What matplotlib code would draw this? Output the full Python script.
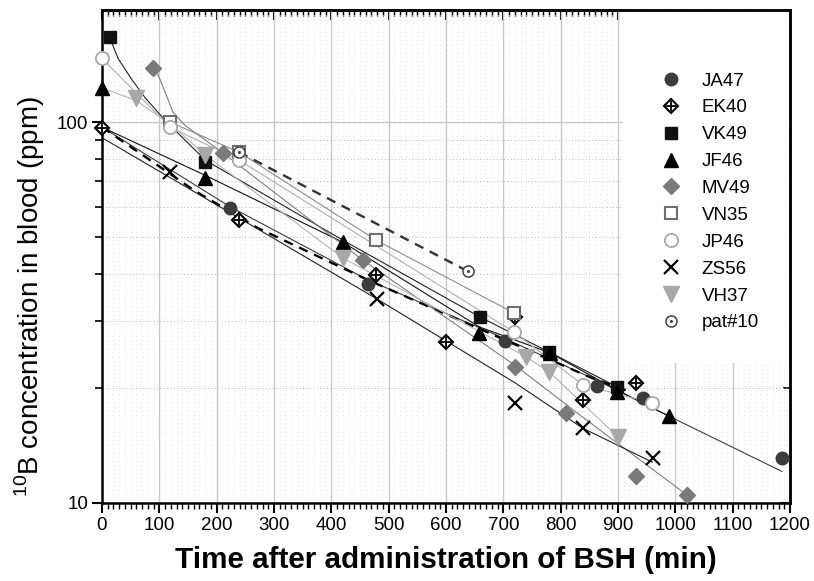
import matplotlib
matplotlib.use('Agg')
import matplotlib.pyplot as plt
from matplotlib.patches import Rectangle
from matplotlib.ticker import LogLocator, MultipleLocator, NullFormatter, FixedLocator
from matplotlib.legend_handler import HandlerTuple

plt.rcParams['font.family'] = ['Liberation Sans', 'DejaVu Sans']

# measured points (min, ppm)
ja47_t = [223, 464, 703, 863, 944, 1186]
ja47_c = [59.5, 37.6, 26.6, 20.3, 18.9, 13.1]
ek40_t = [0, 239, 478, 600, 720, 839, 931]
ek40_c = [96.4, 55.3, 39.7, 26.5, 30.8, 18.6, 20.6]
vk49_t = [14, 180, 659, 780, 898]
vk49_c = [167, 78.5, 30.8, 24.9, 20.2]
jf46_t = [0, 180, 420, 658, 781, 898, 989]
jf46_c = [123, 71.3, 48.4, 27.9, 24.8, 19.6, 16.9]
mv49_t = [89, 211, 455, 720, 810, 932, 1020]
mv49_c = [139, 82.9, 43.4, 22.7, 17.2, 11.8, 10.5]
vn35_t = [119, 239, 478, 719]
vn35_c = [100, 83.4, 49.0, 31.5]
jp46_t = [0, 119, 239, 719, 839, 960]
jp46_c = [147, 97, 79.5, 28.1, 20.4, 18.3]
zs56_t = [119, 480, 720, 839, 961]
zs56_c = [73.9, 34.3, 18.3, 15.7, 13.1]
vh37_t = [59, 180, 420, 740, 780, 900]
vh37_c = [115.6, 81.9, 44, 24.2, 22.1, 14.9]
pat10_t = [239, 638]
pat10_c = [83.4, 40.6]

# fitted curves
ja47_fit_t = [0, 223, 464, 703, 863, 989, 1186]
ja47_fit_c = [97, 60, 38.5, 27, 21, 16.9, 12.1]
ek40_fit_t = [0, 162, 272, 464, 851, 921]
ek40_fit_c = [97, 66, 52.7, 38.5, 21.4, 19.6]
vk49_fit_t = [14, 28, 51, 75, 98, 115, 180, 420, 659, 780, 898]
vk49_fit_c = [166, 147, 130, 116, 106, 99.4, 79.5, 49, 30.8, 24.9, 20.2]
jf46_fit_t = [0, 180, 420, 658, 781, 898, 989]
jf46_fit_c = [97, 72.5, 48.4, 29, 24.8, 19.8, 16.9]
mv49_fit_t = [89, 98, 110, 124, 145, 211, 455, 720, 834, 1020]
mv49_fit_c = [139, 133, 120, 106, 98, 83, 43.4, 23, 17, 10.5]
vn35_fit_t = [119, 239, 478, 719]
vn35_fit_c = [100, 83.4, 49, 31.5]
jp46_fit_t = [0, 119, 239, 719, 839, 960]
jp46_fit_c = [147, 97, 79.5, 28.1, 20.4, 18.3]
zs56_fit_t = [0, 162, 480, 720, 839, 960]
zs56_fit_c = [91, 65.5, 34.3, 20.7, 15.7, 12.8]
vh37_fit_t = [0, 59, 119, 180, 420, 740, 780, 900]
vh37_fit_c = [123, 114, 99, 82, 44, 24.2, 22.1, 14.9]
pat10_fit_t = [239, 638]
pat10_fit_c = [83.4, 40.6]

x_ticks = list(range(0, 1201, 100))

fig = plt.figure(figsize=(8.14, 5.81), dpi=100)
ax = fig.add_axes([0.1253, 0.1343, 0.8452, 0.8485])
ax.set_yscale('log')
ax.set_xlim(0, 1200)
ax.set_ylim(10, 197)
ax.set_axisbelow(True)

# fit lines
thin = 0.8
ax.plot(ja47_fit_t, ja47_fit_c, color='#3c3c3c', lw=thin, zorder=2)
ax.plot(ek40_fit_t, ek40_fit_c, color='black', lw=1.7, ls=(0, (4, 3)), zorder=2)
ax.plot(vk49_fit_t, vk49_fit_c, color='#222222', lw=thin, zorder=2)
ax.plot(jf46_fit_t, jf46_fit_c, color='#111111', lw=thin, zorder=2)
ax.plot(mv49_fit_t, mv49_fit_c, color='#808080', lw=thin, zorder=2)
ax.plot(vn35_fit_t, vn35_fit_c, color='#8c8c8c', lw=thin, zorder=2)
ax.plot(jp46_fit_t, jp46_fit_c, color='#b0b0b0', lw=thin, zorder=2)
ax.plot(zs56_fit_t, zs56_fit_c, color='#222222', lw=thin, zorder=2)
ax.plot(vh37_fit_t, vh37_fit_c, color='#b4b4b4', lw=thin, zorder=2)
ax.plot(pat10_fit_t, pat10_fit_c, color='#333333', lw=1.7, ls=(0, (4, 3)), zorder=2)

# markers
kw = dict(ls='none', clip_on=False, zorder=4)
h_ja47, = ax.plot(ja47_t, ja47_c, 'o', color='#3c3c3c', ms=9, **kw)
h_ek40a, = ax.plot(ek40_t, ek40_c, 'D', mfc='white', mec='black', ms=7.5, mew=1.5, **kw)
h_ek40b, = ax.plot(ek40_t, ek40_c, '+', color='black', ms=7.5, mew=1.3, **kw)
h_vk49, = ax.plot(vk49_t, vk49_c, 's', color='#111111', ms=8, **kw)
h_jf46, = ax.plot(jf46_t, jf46_c, '^', color='black', ms=10, **kw)
h_mv49, = ax.plot(mv49_t, mv49_c, 'D', color='#7a7a7a', ms=8, **kw)
h_vn35, = ax.plot(vn35_t, vn35_c, 's', mfc='white', mec='#6e6e6e', ms=9, mew=1.5, **kw)
h_jp46, = ax.plot(jp46_t, jp46_c, 'o', mfc='white', mec='#a8a8a8', ms=9.5, mew=1.3, **kw)
h_zs56, = ax.plot(zs56_t, zs56_c, 'x', color='black', ms=10, mew=1.6, **kw)
h_vh37, = ax.plot(vh37_t, vh37_c, 'v', color='#a8a8a8', ms=11, **kw)
h_p10a, = ax.plot(pat10_t, pat10_c, 'o', mfc='white', mec='#444444', ms=8, mew=1.1, **kw)
h_p10b, = ax.plot(pat10_t, pat10_c, '.', color='#444444', ms=2.5, **kw)

# white area behind legend
ax.add_patch(Rectangle((0.757, 0.284), 0.241, 0.712, transform=ax.transAxes,
                       facecolor='white', edgecolor='none', zorder=1))

handles = [h_ja47, (h_ek40a, h_ek40b), h_vk49, h_jf46, h_mv49, h_vn35, h_jp46,
           h_zs56, h_vh37, (h_p10a, h_p10b)]
labels = ['JA47', 'EK40', 'VK49', 'JF46', 'MV49', 'VN35', 'JP46', 'ZS56', 'VH37', 'pat#10']
leg = ax.legend(handles, labels, loc='upper left', bbox_to_anchor=(0.795, 0.9),
                frameon=False, fontsize=13.5, handlelength=1.0, handletextpad=1.1,
                labelspacing=0.52, borderpad=0.2,
                handler_map={tuple: HandlerTuple(ndivide=1, pad=0)})
leg.set_zorder(5)

# grid
ax.xaxis.set_major_locator(FixedLocator(x_ticks))
ax.xaxis.set_minor_locator(MultipleLocator(10))
ax.yaxis.set_major_locator(LogLocator(base=10))
ax.yaxis.set_minor_locator(LogLocator(base=10, subs=range(2, 10)))
ax.yaxis.set_minor_formatter(NullFormatter())
ax.grid(which='major', color='#c8c8c8', lw=1.0, ls='-')
ax.grid(which='minor', axis='x', color='#d4d4d4', lw=0.6, ls=(0, (1, 4)))
ax.grid(which='minor', axis='y', color='#bcbcbc', lw=0.7, ls=(0, (1, 2.5)))
ax.yaxis.set_major_formatter(matplotlib.ticker.FuncFormatter(lambda v, p: '%d' % v))

for s in ax.spines.values():
    s.set_linewidth(1.8)

ax.tick_params(axis='both', which='both', labelsize=13.5, colors='black')
ax.tick_params(axis='x', which='major', direction='out', length=7, width=1.5, pad=3)
ax.tick_params(axis='x', which='minor', direction='out', length=4, width=1.0)
ax.tick_params(axis='y', which='major', direction='out', length=7, width=1.5, pad=3)
ax.tick_params(axis='y', which='minor', direction='out', length=5, width=1.2)

# top and right ticks pointing inwards
sec_x = ax.secondary_xaxis('top')
sec_x.xaxis.set_major_locator(FixedLocator(x_ticks))
sec_x.xaxis.set_minor_locator(MultipleLocator(10))
sec_x.tick_params(which='major', direction='in', length=7, width=1.5, labeltop=False)
sec_x.tick_params(which='minor', direction='in', length=4, width=1.0)
sec_x.spines['top'].set_linewidth(1.8)
sec_y = ax.secondary_yaxis('right')
sec_y.yaxis.set_major_locator(LogLocator(base=10))
sec_y.yaxis.set_minor_locator(LogLocator(base=10, subs=range(2, 10)))
sec_y.yaxis.set_minor_formatter(NullFormatter())
sec_y.tick_params(which='major', direction='in', length=8, width=1.5, labelright=False)
sec_y.tick_params(which='minor', direction='in', length=5, width=1.2)
sec_y.spines['right'].set_linewidth(1.8)

ax.set_xlabel('Time after administration of BSH (min)', fontsize=21.3,
              fontweight='bold', labelpad=9)
fig.text(0.036, 0.49, r'$^{\mathregular{10}}$B concentration in blood (ppm)',
         rotation=90, fontsize=20, ha='center', va='center')

fig.savefig('out.png', dpi=100)
